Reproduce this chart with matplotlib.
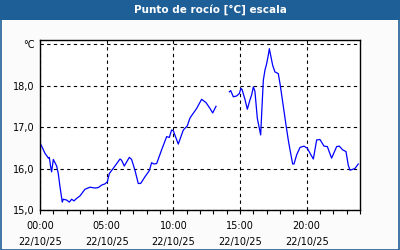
import matplotlib
matplotlib.use("Agg")
import matplotlib.pyplot as plt
from matplotlib.patches import Rectangle
import numpy as np

# datos (horas desde 00:00 y punto de rocio en °C)
horas = [0.08, 0.37, 0.63, 0.7, 0.8, 0.87, 1.0, 1.25, 1.37, 1.5, 1.67, 1.75, 2.0, 2.2,
         2.37, 2.55, 2.75, 3.0, 3.37, 3.75, 4.12, 4.37, 4.62, 4.87, 5.05, 5.2, 5.62,
         6.0, 6.12, 6.32, 6.7, 6.87, 7.12, 7.37, 7.55, 7.87, 8.2, 8.37, 8.55, 8.75,
         9.12, 9.5, 9.7, 9.87, 10.0, 10.37, 10.75, 11.05, 11.25, 11.75, 12.12, 12.45,
         12.75, 12.95, 13.2, 13.7,
         14.2, 14.3, 14.5, 14.75, 14.95, 15.07, 15.15, 15.37, 15.55, 15.75, 15.87, 16.0,
         16.12, 16.3, 16.45, 16.55, 16.65, 16.75, 16.87, 17.0, 17.12, 17.2, 17.3, 17.45,
         17.62, 17.87, 18.0, 18.2, 18.45, 18.62, 18.75, 18.95, 19.05, 19.25, 19.5, 19.8,
         20.05, 20.25, 20.5, 20.75, 21.0, 21.3, 21.55, 21.87, 22.25, 22.45, 22.7, 22.95,
         23.12, 23.25, 23.62, 23.87]
rocio = [16.57, 16.37, 16.25, 16.27, 16.04, 15.92, 16.22, 16.06, 15.88, 15.56, 15.19, 15.26,
         15.24, 15.19, 15.26, 15.22, 15.28, 15.34, 15.5, 15.55, 15.53, 15.54, 15.6, 15.63,
         15.68, 15.88, 16.06, 16.23, 16.2, 16.06, 16.27, 16.22, 15.96, 15.64, 15.64, 15.8,
         15.95, 16.14, 16.11, 16.12, 16.45, 16.77, 16.75, 16.93, 16.91, 16.59, 16.93, 17.03,
         17.22, 17.45, 17.67, 17.59, 17.45, 17.34, 17.5, np.nan,
         17.85, 17.88, 17.73, 17.75, 17.81, 17.93, 17.91, 17.67, 17.43, 17.66, 17.77, 17.97,
         17.86, 17.21, 16.97, 16.81, 17.49, 18.13, 18.37, 18.53, 18.73, 18.89, 18.73, 18.49,
         18.33, 18.29, 18.05, 17.61, 17.05, 16.69, 16.45, 16.11, 16.11, 16.33, 16.51, 16.54,
         16.49, 16.37, 16.23, 16.69, 16.7, 16.54, 16.53, 16.25, 16.53, 16.54, 16.45, 16.41,
         16.08, 15.96, 16.0, 16.11]

ticks_x = [0, 5, 10, 15, 20]
etiquetas_x = ["00:00\n22/10/25", "05:00\n22/10/25", "10:00\n22/10/25",
               "15:00\n22/10/25", "20:00\n22/10/25"]
ticks_y = [15, 16, 17, 18, 19]
etiquetas_y = ["15,0", "16,0", "17,0", "18,0", "°C"]

azul_barra = "#1f5f97"

fig = plt.figure(figsize=(4, 2.5), dpi=100, facecolor="#fbfbfb")

# barra del titulo y borde exterior
fig.patches.append(Rectangle((0, 230 / 250), 1, 20 / 250, transform=fig.transFigure,
                             facecolor=azul_barra, edgecolor="none", zorder=0))
fig.patches.append(Rectangle((0.0015, 0.002), 0.997, 0.996, transform=fig.transFigure,
                             facecolor="none", edgecolor=azul_barra, linewidth=1.2, zorder=1))
fig.text(210 / 400, 240 / 250, "Punto de rocío [°C] escala", color="white", fontsize=7.5,
         fontweight="bold", ha="center", va="center")

ax = fig.add_axes([0.1, 0.16, 0.8, 0.68])
ax.set_facecolor("white")
ax.plot(horas, rocio, color="#0000ff", linewidth=0.9)

ax.set_xlim(0, 24)
ax.set_ylim(15, 19.1)
ax.set_xticks(ticks_x)
ax.set_xticklabels(etiquetas_x, fontsize=7, linespacing=1.7)
ax.set_xticks(np.arange(0, 25, 1), minor=True)
ax.set_yticks(ticks_y)
ax.set_yticklabels(etiquetas_y, fontsize=7)
ax.tick_params(axis="x", which="both", direction="out", length=3, width=0.8, pad=5)
ax.tick_params(axis="y", length=0, pad=4)
ax.grid(True, which="major", color="black", linestyle=(0, (3, 3)), linewidth=0.8)

for lado in ax.spines.values():
    lado.set_linewidth(1.0)
    lado.set_color("black")

fig.savefig("out.png", dpi=100, facecolor=fig.get_facecolor())
